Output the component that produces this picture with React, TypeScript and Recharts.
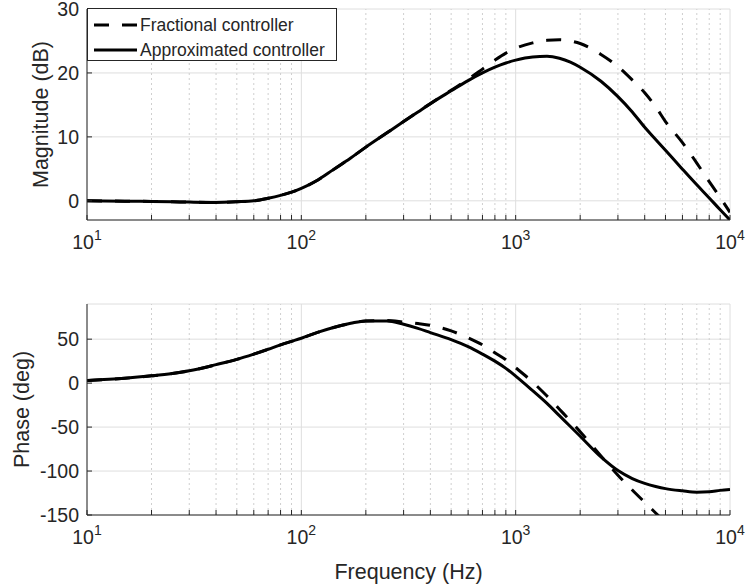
import React from 'react';
import { LineChart, Line, XAxis, YAxis, CartesianGrid, ReferenceLine, Legend, Label } from 'recharts';

// ---------- data ----------
const freqs = [10, 15, 20, 25, 30, 40, 50, 60, 70, 80, 90, 100, 120, 140, 170, 200, 250, 300, 350, 400, 500, 600, 700, 800, 900, 1000, 1200, 1400, 1600, 1800, 2000, 2500, 3000, 3500, 4000, 4500, 5000, 6000, 7000, 8000, 9000, 10000];

const magFractional = [0, -0.05, -0.1, -0.15, -0.2, -0.25, -0.15, 0.0, 0.4, 0.85, 1.35, 1.95, 3.3, 4.8, 6.7, 8.4, 10.6, 12.4, 13.9, 15.2, 17.3, 19.0, 20.6, 22.0, 23.1, 23.85, 24.7, 25.1, 25.2, 25.0, 24.6, 22.9, 21.0, 18.9, 16.9, 14.7, 12.4, 9.1, 5.9, 3.0, 0.5, -1.8];
const magApproximated = [0, -0.05, -0.1, -0.15, -0.2, -0.25, -0.15, 0.0, 0.4, 0.85, 1.35, 1.95, 3.3, 4.8, 6.7, 8.4, 10.6, 12.4, 13.9, 15.2, 17.2, 18.8, 20.0, 20.9, 21.55, 22.0, 22.5, 22.6, 22.3, 21.7, 20.9, 18.7, 16.3, 13.9, 11.5, 9.6, 7.9, 4.95, 2.5, 0.45, -1.4, -3.0];

const phaseFractional = [3, 5.5, 8.3, 11, 14, 21, 27, 33, 38.5, 43.5, 47.5, 51, 58, 63, 68, 70.8, 71.2, 69.5, 67.7, 65.8, 59.4, 51.5, 43.5, 34.5, 26.5, 17.5, 1.2, -14.7, -29.7, -43, -55.4, -83, -104.7, -121.5, -135.5, -147.7, -158.6, null, null, null, null, null];
const phaseApproximated = [3, 5.5, 8.3, 11, 14, 21, 27, 33, 38.5, 43.5, 47.5, 51, 58, 63, 68, 70.8, 70.8, 67, 62.3, 57.5, 49.5, 41.5, 33, 25, 16.8, 8, -8.5, -23, -37, -49.3, -60.4, -84, -99.5, -108.5, -114, -117.5, -120, -122.5, -124, -123.5, -122, -121];

const seriesNames = ['Fractional controller', 'Approximated controller'];
const decadeTicks = [10, 100, 1000, 10000];
const minorTicks = [20, 30, 40, 50, 60, 70, 80, 90, 200, 300, 400, 500, 600, 700, 800, 900, 2000, 3000, 4000, 5000, 6000, 7000, 8000, 9000];
const allXTicks = [...decadeTicks, ...minorTicks].sort((a, b) => a - b);
const magTicks = [0, 10, 20, 30];
const phaseTicks = [-150, -100, -50, 0, 50];
const xDomain = [10, 10000];
const magDomain = [-3, 30];
const phaseDomain = [-150, 90];

const magData = freqs.map((f, i) => ({ f, frac: magFractional[i], approx: magApproximated[i] }));
const phaseData = freqs.map((f, i) => ({ f, frac: phaseFractional[i], approx: phaseApproximated[i] }));

// ---------- styles ----------
const FONT = '"Liberation Sans", Arial, Helvetica, sans-serif';
const TEXT = '#262626';
const AXIS = '#262626';
const GRID = '#dedede';
const MINOR = '#cfcfcf';
const DASH = '15 13';
const LW = 3;

const DecadeTick = (props: any) => {
  const { x, y, payload } = props;
  const v = payload.value;
  const e = Math.round(Math.log10(v));
  if (Math.abs(Math.pow(10, e) - v) > 1e-6) return <g />;
  return (
    <text x={x} y={y + 34} textAnchor="middle" fill={TEXT} fontSize={19.5} fontFamily={FONT}>
      <tspan>10</tspan>
      <tspan dy={-9} fontSize={14}>{e}</tspan>
    </text>
  );
};

const yLabel = (text: string, cx: number) => (props: any) => {
  const vb = props.viewBox;
  const cy = vb.y + vb.height / 2;
  return (
    <text x={cx} y={cy} transform={`rotate(-90, ${cx}, ${cy})`} textAnchor="middle" dominantBaseline="central" fill={TEXT} fontSize={21.5} fontFamily={FONT}>
      {text}
    </text>
  );
};

const xLabel = (text: string) => (props: any) => {
  const vb = props.viewBox;
  return (
    <text x={vb.x + vb.width / 2} y={vb.y + vb.height - 9} textAnchor="middle" fill={TEXT} fontSize={21.5} fontFamily={FONT}>
      {text}
    </text>
  );
};

const LegendBox = () => (
  <div style={{ width: 250, height: 53, boxSizing: 'border-box', border: `1px solid ${AXIS}`, background: '#fff', position: 'relative' }}>
    <svg width={248} height={51} style={{ position: 'absolute', left: 0, top: 0 }}>
      <line x1={6} x2={49} y1={16} y2={16} stroke="#000" strokeWidth={LW} strokeDasharray={DASH} />
      <text x={52} y={22} fill={TEXT} fontSize={17.5} fontFamily={FONT}>{seriesNames[0]}</text>
      <line x1={6} x2={49} y1={41} y2={41} stroke="#000" strokeWidth={LW} />
      <text x={52} y={47} fill={TEXT} fontSize={17.5} fontFamily={FONT}>{seriesNames[1]}</text>
    </svg>
  </div>
);

type PanelProps = {
  data: any[];
  height: number;
  marginTop: number;
  xAxisHeight: number;
  yDomain: number[];
  yTicks: number[];
  yTitle: string;
  yTitleX: number;
  xTitle?: string;
  showLegend?: boolean;
};

const Panel = ({ data, height, marginTop, xAxisHeight, yDomain, yTicks, yTitle, yTitleX, xTitle, showLegend }: PanelProps) => (
  <LineChart width={745} height={height} data={data} margin={{ top: marginTop, right: 15, bottom: 0, left: 0 }}>
    <CartesianGrid vertical={false} stroke={GRID} strokeWidth={1} />
    {minorTicks.map((v) => (
      <ReferenceLine key={`m${v}`} x={v} stroke={MINOR} strokeWidth={1} strokeDasharray="2 3" />
    ))}
    {decadeTicks.map((v) => (
      <ReferenceLine key={`d${v}`} x={v} stroke={GRID} strokeWidth={1} />
    ))}
    <Line dataKey="frac" name={seriesNames[0]} stroke="#000" strokeWidth={LW} strokeDasharray={DASH} dot={false} type="monotone" isAnimationActive={false} />
    <Line dataKey="approx" name={seriesNames[1]} stroke="#000" strokeWidth={LW} dot={false} type="monotone" isAnimationActive={false} />
    <XAxis
      dataKey="f"
      type="number"
      scale="log"
      domain={xDomain}
      allowDataOverflow
      ticks={allXTicks}
      interval={0}
      height={xAxisHeight}
      tickSize={-5}
      tickMargin={0}
      tickLine={{ stroke: AXIS }}
      axisLine={{ stroke: AXIS }}
      tick={<DecadeTick />}
    >
      {xTitle ? <Label content={xLabel(xTitle)} /> : null}
    </XAxis>
    <XAxis
      xAxisId="top"
      orientation="top"
      type="number"
      scale="log"
      domain={xDomain}
      allowDataOverflow
      ticks={allXTicks}
      interval={0}
      height={0}
      tickSize={-5}
      tickLine={{ stroke: AXIS }}
      axisLine={{ stroke: AXIS }}
      tickFormatter={() => ''}
    />
    <YAxis
      type="number"
      domain={yDomain}
      allowDataOverflow
      ticks={yTicks}
      interval={0}
      width={87}
      tickSize={-5}
      tickMargin={13}
      tickLine={{ stroke: AXIS }}
      axisLine={{ stroke: AXIS }}
      tick={{ fill: TEXT, fontSize: 19.5, fontFamily: FONT }}
    >
      <Label content={yLabel(yTitle, yTitleX)} />
    </YAxis>
    <YAxis
      yAxisId="right"
      orientation="right"
      type="number"
      domain={yDomain}
      allowDataOverflow
      ticks={yTicks}
      interval={0}
      width={0}
      tickSize={-5}
      tickLine={{ stroke: AXIS }}
      axisLine={{ stroke: AXIS }}
      tickFormatter={() => ''}
    />
    {showLegend ? (
      <Legend
        layout="vertical"
        align="center"
        verticalAlign="middle"
        wrapperStyle={{ left: 87, top: 8, width: 250, height: 53 }}
        content={() => <LegendBox />}
      />
    ) : null}
  </LineChart>
);

export default function App() {
  return (
    <div style={{ position: 'absolute', left: 0, top: 0, width: 745, height: 588, background: '#fff', fontFamily: FONT }}>
      <div style={{ position: 'absolute', left: 0, top: 0 }}>
        <Panel data={magData} height={290} marginTop={9} xAxisHeight={70} yDomain={magDomain} yTicks={magTicks} yTitle="Magnitude (dB)" yTitleX={41} showLegend />
      </div>
      <div style={{ position: 'absolute', left: 0, top: 290 }}>
        <Panel data={phaseData} height={298} marginTop={14} xAxisHeight={73} yDomain={phaseDomain} yTicks={phaseTicks} yTitle="Phase (deg)" yTitleX={22} xTitle="Frequency (Hz)" />
      </div>
    </div>
  );
}
